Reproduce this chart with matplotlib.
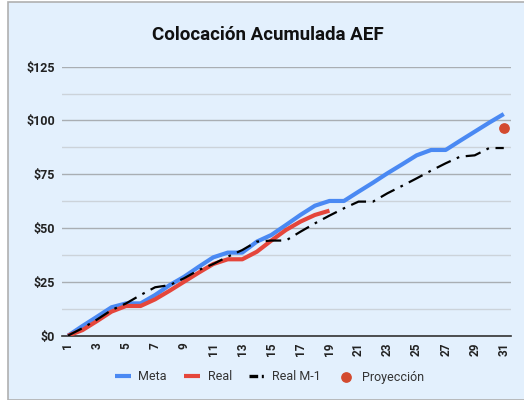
import matplotlib.pyplot as plt
from matplotlib.lines import Line2D
from matplotlib.patches import Rectangle
from matplotlib.ticker import MultipleLocator

plt.rcParams['font.family'] = ['Roboto', 'DejaVu Sans']

# datos (millones)
dias = list(range(1, 32))
meta = [0, 4.5, 8.8, 13.2, 15, 15, 18.9, 23.5, 27.4, 32, 36.4, 38.6, 38.6, 43.7, 46.8,
        51.4, 56.1, 60.4, 62.6, 62.6, 66.9, 71.1, 75.5, 79.6, 83.8, 86.3, 86.3, 90.6,
        94.8, 99, 103]
real = [0, 2.6, 6.8, 11.2, 13.8, 13.8, 16.9, 20.9, 25.1, 29.3, 33.3, 35.5, 35.5, 39,
        44.2, 49.1, 53, 56.1, 58.1]
real_m1 = [0, 3.5, 7.5, 11.9, 15, 18.9, 22.5, 23.5, 26.7, 30.5, 33.3, 36.7, 39.8, 43.7,
           44.2, 44.2, 48.3, 52.2, 55.8, 59.2, 62.3, 62.3, 66.2, 69.6, 73.1, 76.7, 80.1,
           83.2, 83.8, 87.2, 87.2]
proy_dia = 31
proy_valor = 96.4

fondo = '#e3f0fd'

fig = plt.figure(figsize=(5.24, 4.0), dpi=100)
fig.patch.set_facecolor('white')
fig.patches.append(Rectangle((8 / 524, 0), 1.0, 1 - 2 / 400, transform=fig.transFigure,
                             facecolor=fondo, edgecolor='#b0b0b0', linewidth=1.2, zorder=-5))

ax = fig.add_axes([0.1178, 0.1608, 0.858, 0.6725])
ax.set_facecolor(fondo)

l_meta, = ax.plot(dias, meta, color='#4a89f3', linewidth=3, label='Meta',
                  solid_capstyle='butt', zorder=3)
l_real, = ax.plot(dias[:len(real)], real, color='#e5463b', linewidth=3, label='Real',
                  solid_capstyle='butt', zorder=4)
ax.plot(dias, real_m1, color='black', linewidth=1.6, linestyle=(0, (7, 3, 1.2, 3)),
        label='Real M-1', zorder=5)
p_proy = ax.scatter([proy_dia], [proy_valor], s=45, color='#d34a2f', label='Proyección', zorder=6)

ax.set_xlim(0.57, 31.52)
ax.set_ylim(0, 125)
ax.set_xticks(dias[::2])
ax.set_xticklabels([str(d) for d in dias[::2]], rotation=90, fontweight='bold', fontsize=8.5)
ax.yaxis.set_major_locator(MultipleLocator(25))
ax.yaxis.set_minor_locator(MultipleLocator(12.5))
ax.set_yticks([0, 25, 50, 75, 100, 125])
ax.set_yticklabels(['$0', '$25', '$50', '$75', '$100', '$125'], fontweight='bold', fontsize=9)
ax.tick_params(axis='both', length=0, pad=5, colors='#222222')
ax.tick_params(axis='y', which='minor', length=0)

ax.grid(axis='y', which='major', color='#a9aeb3', linewidth=1, zorder=1)
ax.grid(axis='y', which='minor', color='#ccd3da', linewidth=1, zorder=1)
for lado in ['top', 'right', 'left']:
    ax.spines[lado].set_visible(False)
ax.spines['bottom'].set_color('#333333')
ax.spines['bottom'].set_linewidth(1.2)
ax.set_axisbelow(True)

fig.text(0.512, 0.912, 'Colocación Acumulada AEF', ha='center', va='center',
         fontsize=13.5, fontweight='bold', color='#111111')

# leyenda: el trazo de Real M-1 se muestra como guion largo + punto
m1_leyenda = Line2D([], [], color='black', linewidth=2.4, linestyle=(0, (2.6, 1.1, 0.6, 10)),
                    label='Real M-1')
leg = fig.legend(handles=[l_meta, l_real, m1_leyenda, p_proy],
                 loc='center', bbox_to_anchor=(0.514, 0.0575), ncol=4, frameon=False,
                 fontsize=9, handlelength=1.3, columnspacing=1.35, handletextpad=0.6)
for t in leg.get_texts():
    t.set_color('#333333')

fig.savefig('out.png', dpi=100, facecolor=fig.get_facecolor())
